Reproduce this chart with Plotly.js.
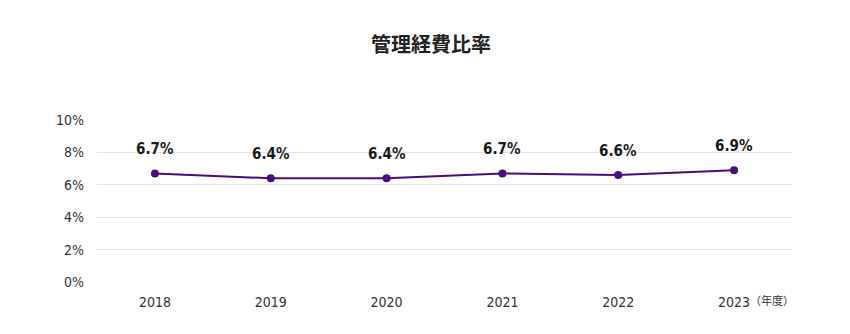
<!DOCTYPE html>
<html><head><meta charset="utf-8">
<script src="https://cdn.plot.ly/plotly-3.0.1.min.js"></script>
<style>html,body{margin:0;padding:0;background:#fff}</style>
</head><body>
<div id="chart" style="width:850px;height:334px"></div>
<script>
const years = ['2018','2019','2020','2021','2022','2023'];
const ratios = [6.7, 6.4, 6.4, 6.7, 6.6, 6.9];
const labels = ['6.7%','6.4%','6.4%','6.7%','6.6%','6.9%'];
const yTicks = [0,2,4,6,8,10];
const yTickText = ['0%','2%','4%','6%','8%','10%'];

const numFont = '"DejaVu Sans Condensed", "Noto Sans CJK JP", sans-serif';
const xIdx = years.map((_, i) => i);
const trace = {
  x: xIdx, y: ratios, type: 'scatter', mode: 'lines+markers',
  line: {color: '#4b0d7d', width: 2},
  marker: {color: '#4b0d7d', size: 8},
  hoverinfo: 'none'
};
const annotations = xIdx.map((xi, i) => ({
  x: xi, y: ratios[i], xref: 'x', yref: 'y', text: '<b>' + labels[i] + '</b>',
  showarrow: false, yshift: 24, font: {family: numFont, size: 15, color: '#1a1a1a'}
}));
const pw = 850 - 97 - 58, ph = 334 - 120 - 52;
annotations.push({
  x: (772 - 97) / pw, y: (334 - 52 - 300) / ph, xref: 'paper', yref: 'paper', xanchor: 'center', yanchor: 'middle',
  text: '（年度）', showarrow: false, font: {family: '"Noto Sans CJK JP", sans-serif', size: 11, color: '#333'}
});
const layout = {
  width: 850, height: 334,
  margin: {l: 97, r: 58, t: 120, b: 52},
  paper_bgcolor: '#fff', plot_bgcolor: '#fff',
  showlegend: false,
  title: {text: '<b>管理経費比率</b>', x: 431/850, xref: 'container', y: 1 - 45/334, yref: 'container', xanchor: 'center', yanchor: 'middle',
    font: {family: '"Noto Sans CJK JP", sans-serif', size: 20, color: '#222'}},
  xaxis: {range: [-0.5, 5.5], tickvals: xIdx, ticktext: years, showgrid: false, zeroline: false, showline: false, ticks: '',
    ticklabelstandoff: 10,
    tickfont: {family: numFont, size: 14, color: '#333'}, fixedrange: true},
  yaxis: {range: [0, 10], tickvals: yTicks, ticktext: yTickText, showgrid: true, gridcolor: '#e3e3e3', gridwidth: 1,
    zeroline: false, showline: false, ticks: '', ticklabelstandoff: 12,
    tickfont: {family: numFont, size: 14, color: '#333'}, fixedrange: true},
  annotations: annotations
};
Plotly.newPlot('chart', [trace], layout, {displayModeBar: false, staticPlot: true});
</script>
</body></html>
